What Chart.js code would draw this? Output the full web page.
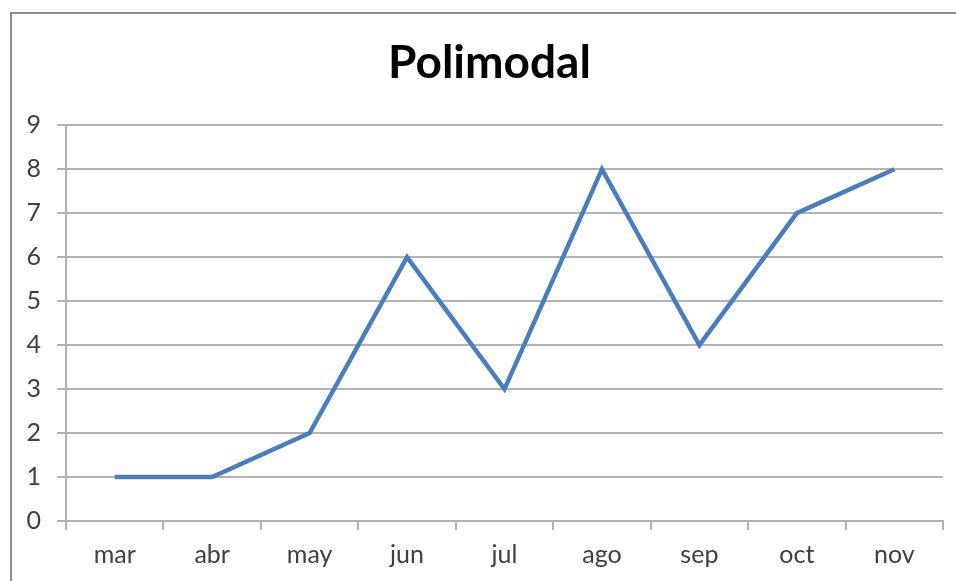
<!DOCTYPE html>
<html><head><meta charset="utf-8">
<script src="https://cdn.jsdelivr.net/npm/chart.js@4"></script>
<style>
html,body{margin:0;padding:0;background:#fff;}
#wrap{position:relative;width:956px;height:581px;overflow:hidden;}
#frame{position:absolute;left:10px;top:12px;width:1000px;height:700px;border:2px solid #8c8c8c;box-sizing:border-box;}
canvas{position:absolute;left:0;top:0;}
</style></head>
<body><div id="wrap"><div id="frame"></div><canvas id="c" width="956" height="581"></canvas></div>
<script>
const chartTitle = "Polimodal";
const categories = ["mar","abr","may","jun","jul","ago","sep","oct","nov"];
const seriesValues = [1,1,2,6,3,8,4,7,8];
const yTicks = [0,1,2,3,4,5,6,7,8,9];

const gridColor = "#b3b3b3";
const shiftTitle = {
  id: "shiftTitle",
  afterLayout(chart) { if (chart.titleBlock) { chart.titleBlock.left += 36; } }
};
new Chart(document.getElementById("c"), {
  type: "line",
  data: { labels: categories, datasets: [{ data: seriesValues, borderColor: "#4a7ebb", borderWidth: 4.5, pointRadius: 0, tension: 0, fill: false }] },
  plugins: [shiftTitle],
  options: {
    responsive: false, animation: false,
    layout: { padding: { left: 0, right: 13, top: 0, bottom: 0 } },
    plugins: {
      legend: { display: false }, tooltip: { enabled: false },
      title: { display: true, text: chartTitle, color: "#000", font: { family: "Lato", size: 46, weight: "bold" }, padding: { top: 36, bottom: 34 } }
    },
    scales: {
      x: {
        offset: true,
        grid: { display: true, offset: true, drawOnChartArea: false, drawTicks: true, tickLength: 9, color: gridColor, lineWidth: 2 },
        border: { color: gridColor, width: 2 },
        ticks: { color: "#404040", font: { family: "Lato", size: 25 }, padding: 10, maxRotation: 0 },
        afterFit: s => { s.height = 60; }
      },
      y: {
        min: 0, max: 9,
        afterBuildTicks: s => { s.ticks = yTicks.map(v => ({ value: v })); },
        grid: { color: gridColor, lineWidth: 2, drawTicks: true, tickLength: 9 },
        border: { color: gridColor, width: 2 },
        ticks: { color: "#404040", font: { family: "Lato", size: 25 }, padding: 16 },
        afterFit: s => { s.width = 66; }
      }
    }
  }
});
</script></body></html>
